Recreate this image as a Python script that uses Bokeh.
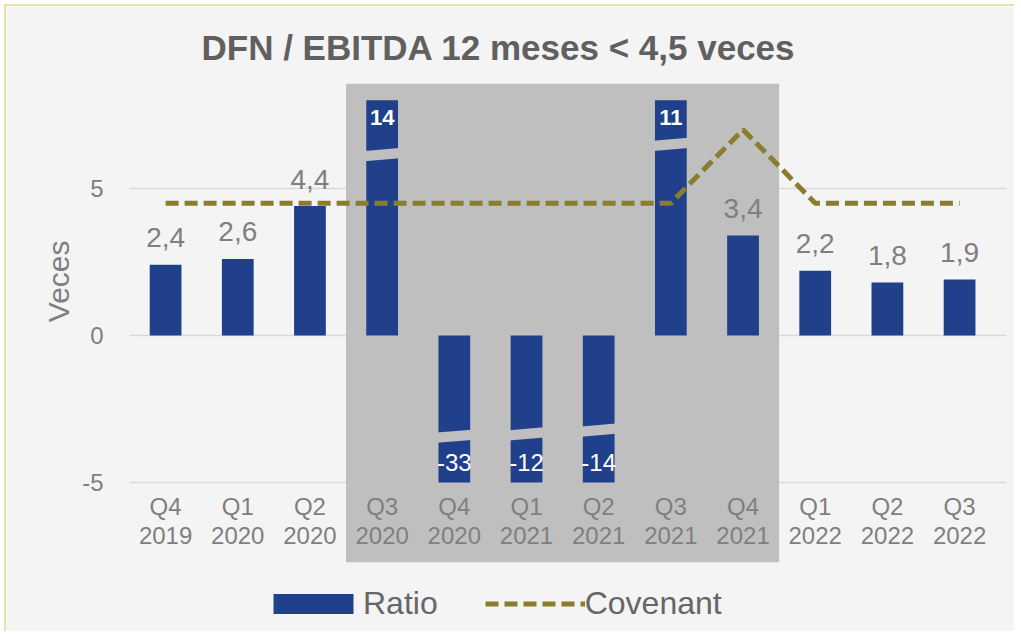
import math
from bokeh.plotting import figure
from bokeh.models import Range1d, FixedTicker, Legend, LegendItem, Title, ColumnDataSource
from bokeh.embed import file_html
from bokeh.resources import INLINE
from bokeh.core.properties import value

# ---------------- data ----------------
categories = ["Q4 2019", "Q1 2020", "Q2 2020", "Q3 2020", "Q4 2020", "Q1 2021",
              "Q2 2021", "Q3 2021", "Q4 2021", "Q1 2022", "Q2 2022", "Q3 2022"]
ratio = [2.4, 2.6, 4.4, 14, -33, -12, -14, 11, 3.4, 2.2, 1.8, 1.9]
covenant = [4.5, 4.5, 4.5, 4.5, 4.5, 4.5, 4.5, 4.5, 7.0, 4.5, 4.5, 4.5]
highlight = ["Q3 2020", "Q4 2021"]
y_ticks = [-5, 0, 5]
title_text = "DFN / EBITDA 12 meses < 4,5 veces"
y_label = "Veces"

# ---------------- style ----------------
FONT = "Liberation Sans"
BG = "#f4f4f4"
BOX = "#bfbfbf"
BLUE = "#20408c"
OLIVE = "#8a7d2b"
GREY_TXT = "#7f7f7f"
Y_TOP, Y_BOTTOM = 8.57, -10.14         # frame range (bottom part hosts the legend)
BOX_BOTTOM = -7.72                     # highlight box lower edge
CLIP_TOP, CLIP_BOTTOM = 8.0, -5.0      # visible bar limits
BAR_W = 0.44
GAP_H = 0.35
GAP_SLANT = 0.10
break_centers = {"Q3 2020": 6.15, "Q4 2020": -3.43, "Q1 2021": -3.35,
                 "Q2 2021": -3.22, "Q3 2021": 6.5}

idx = list(range(len(categories)))
shown = [min(max(v, CLIP_BOTTOM), CLIP_TOP) for v in ratio]


def fmt(v):
    return str(int(v)) if abs(v) >= 10 else f"{v:.1f}".replace(".", ",")


p = figure(width=1010, height=627, output_backend="svg", toolbar_location=None,
           x_range=Range1d(-0.5, 11.65), y_range=Range1d(Y_BOTTOM, Y_TOP),
           x_axis_type=None, min_border_left=123, min_border_right=10,
           min_border_top=77, min_border_bottom=0,
           styles={"margin-top": "4px", "margin-left": "4px",
                   "border-top": "2px solid #e6dfae", "border-left": "2px solid #e6dfae"})
p.background_fill_color = BG
p.border_fill_color = BG
p.outline_line_color = None

# title
p.title.text = title_text
p.title.align = "left"
p.title.offset = 72
p.title.standoff = 34
p.title.text_font = FONT
p.title.text_font_size = "35px"
p.title.text_font_style = "bold"
p.title.text_color = "#606060"

# axes / grid
p.yaxis.ticker = FixedTicker(ticks=y_ticks)
p.yaxis.major_label_overrides = {t: str(t) for t in y_ticks}
p.yaxis.axis_line_color = None
p.yaxis.major_tick_line_color = None
p.yaxis.minor_tick_line_color = None
p.yaxis.major_tick_out = 0
p.yaxis.major_tick_in = 0
p.yaxis.major_label_standoff = 26
p.yaxis.major_label_text_font = FONT
p.yaxis.major_label_text_font_size = "24px"
p.yaxis.major_label_text_color = GREY_TXT
p.ygrid.ticker = FixedTicker(ticks=y_ticks)
p.ygrid.grid_line_color = "#d9d9d9"
p.ygrid.grid_line_width = 1.5
p.xgrid.visible = False

# y axis title (placed on the upper part, like the original plot area)
p.add_layout(Title(text=y_label, align="right", offset=157, standoff=10,
                   text_font=FONT, text_font_size="30px", text_font_style="normal",
                   text_color=GREY_TXT), "left")

# highlight box
h0 = categories.index(highlight[0]) - 0.5
h1 = categories.index(highlight[1]) + 0.5
p.quad(left=[h0], right=[h1], bottom=[BOX_BOTTOM], top=[Y_TOP],
       fill_color=BOX, line_color=None)

# bars
src = ColumnDataSource(dict(x=idx, top=shown, cat=categories))
bars = p.vbar(x="x", top="top", bottom=0, width=BAR_W, source=src,
              fill_color=BLUE, line_color=None)

# breaks
gx, gy = [], []
for c, yc in break_centers.items():
    i = categories.index(c)
    l, r = i - BAR_W / 2 - 0.02, i + BAR_W / 2 + 0.02
    s = GAP_SLANT / 2
    gx.append([l, r, r, l])
    gy.append([yc - GAP_H / 2 - s, yc - GAP_H / 2 + s, yc + GAP_H / 2 + s, yc + GAP_H / 2 - s])
p.patches(gx, gy, fill_color=BOX, line_color=None)

# covenant
line = p.line(idx, covenant, line_color=OLIVE, line_width=5, line_dash="13 6")

# value labels
pos_x = [i for i, v in zip(idx, ratio) if 0 <= v <= CLIP_TOP]
pos_y = [v for v in ratio if 0 <= v <= CLIP_TOP]
pos_t = [fmt(v) for v in ratio if 0 <= v <= CLIP_TOP]
p.text(pos_x, pos_y, text=pos_t, text_align="center", text_baseline="middle",
       y_offset=-27, text_font=value(FONT), text_font_size="28px", text_color=GREY_TXT)

hi_x = [i for i, v in zip(idx, ratio) if v > CLIP_TOP]
hi_t = [fmt(v) for v in ratio if v > CLIP_TOP]
p.text(hi_x, [CLIP_TOP] * len(hi_x), text=hi_t, text_align="center", text_baseline="middle",
       y_offset=17, text_font=value(FONT), text_font_size="22px", text_font_style="bold",
       text_color="white")

lo_x = [i for i, v in zip(idx, ratio) if v < CLIP_BOTTOM]
lo_t = [fmt(v) for v in ratio if v < CLIP_BOTTOM]
p.text(lo_x, [CLIP_BOTTOM] * len(lo_x), text=lo_t, text_align="center", text_baseline="middle",
       y_offset=-20, text_font=value(FONT), text_font_size="24px", text_color="white")

# category labels
quarters = [c.split()[0] for c in categories]
years = [c.split()[1] for c in categories]
p.text(idx, [CLIP_BOTTOM] * len(idx), text=quarters, text_align="center", text_baseline="middle",
       y_offset=24, text_font=value(FONT), text_font_size="24px", text_color=GREY_TXT)
p.text(idx, [CLIP_BOTTOM] * len(idx), text=years, text_align="center", text_baseline="middle",
       y_offset=53, text_font=value(FONT), text_font_size="24px", text_color=GREY_TXT)

legend = Legend(items=[LegendItem(label="Ratio", renderers=[bars]),
                       LegendItem(label="Covenant", renderers=[line])],
                orientation="horizontal", location=(134, 11),
                glyph_width=100, glyph_height=25, label_standoff=0, spacing=47,
                padding=0, margin=0, border_line_color=None, background_fill_alpha=0,
                label_text_font=FONT, label_text_font_size="32px", label_text_color="#666666")
p.add_layout(legend)

open("out.html", "w").write(file_html(p, INLINE))
